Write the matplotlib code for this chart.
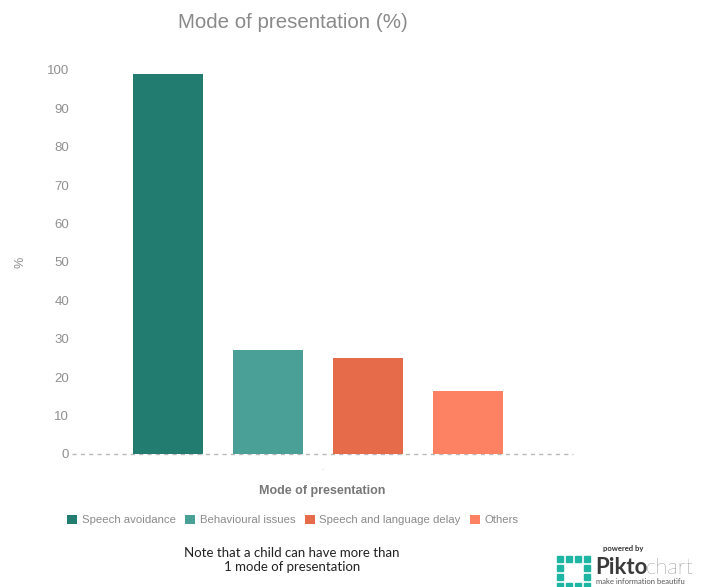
import matplotlib.pyplot as plt
from matplotlib.patches import Patch, Rectangle

categories = ["Speech avoidance", "Behavioural issues", "Speech and language delay", "Others"]
values = [99, 27, 25, 16.4]
colors = ["#227c70", "#4aa096", "#e66b4b", "#fd8264"]
yticks = [0, 10, 20, 30, 40, 50, 60, 70, 80, 90, 100]

plt.rcParams["font.family"] = ["Liberation Sans", "DejaVu Sans"]

W, H = 707, 587
fig = plt.figure(figsize=(W / 100, H / 100), dpi=100)
ax = fig.add_axes([72 / W, 1 - 454 / H, (573 - 72) / W, (454 - 70) / H])

x = range(len(values))
ax.bar(x, values, width=0.7, color=colors, zorder=2)
ax.set_xlim(-0.96, 4.05)
ax.set_ylim(0, 100)
ax.set_yticks(yticks)
ax.set_yticklabels([str(t) for t in yticks], color="#909090", fontsize=9.5,
                   family=["Liberation Sans", "DejaVu Sans"])
ax.tick_params(axis="y", length=0, pad=2)
ax.set_xticks([])
for s in ax.spines.values():
    s.set_visible(False)
ax.axhline(0, color="#b8b8b8", lw=1, ls=(0, (3, 3)), zorder=1, clip_on=False)

fig.text(20 / W, 1 - 262 / H, "%", rotation=90, ha="center", va="center",
         color="#8a8a8a", fontsize=9)
fig.text(322 / W, 1 - 468 / H, ".", ha="center", va="center", color="#bbbbbb", fontsize=6)
fig.text(293 / W, 1 - 22 / H, "Mode of presentation (%)", ha="center", va="center",
         color="#8a8a8a", fontsize=14.8)
fig.text(322 / W, 1 - 491 / H, "Mode of presentation", ha="center", va="center",
         color="#777777", fontsize=9, fontweight="bold")

handles = [Patch(facecolor=c, edgecolor="none") for c in colors]
fig.legend(handles, categories, loc="center", bbox_to_anchor=(293 / W, 1 - 520 / H),
           ncol=4, frameon=False, fontsize=8.2, labelcolor="#8a8a8a",
           handlelength=0.9, handleheight=0.9, handletextpad=0.4, columnspacing=0.8)

fig.text(292 / W, 1 - 560 / H, "Note that a child can have more than\n1 mode of presentation",
         ha="center", va="center", fontsize=9.5, color="#222222", family=["Lato", "DejaVu Sans"],
         linespacing=1.2)

# Piktochart badge
fig.text(623 / W, 1 - 549 / H, "powered by", ha="center", va="center", fontsize=5.5,
         color="#333333", fontweight="bold", family=["Lato", "DejaVu Sans"])
teal = "#1fb5a3"
cell, gap = 6, 3
for i in range(4):
    for j in range(4):
        if i in (1, 2) and j in (1, 2):
            continue
        x0 = 557 + j * (cell + gap)
        y0 = 556 + i * (cell + gap)
        fig.patches.append(Rectangle((x0 / W, 1 - (y0 + cell) / H), cell / W, cell / H,
                                     transform=fig.transFigure, color=teal))
fig.text(595 / W, 1 - 568 / H, "Pikto", ha="left", va="center", fontsize=16,
         fontweight="bold", color="#3a3a3a", family=["Lato", "DejaVu Sans"])
fig.text(646 / W, 1 - 568 / H, "chart", ha="left", va="center", fontsize=16,
         fontweight="light", color="#3a3a3a", family=["Lato", "DejaVu Sans"])
fig.text(596 / W, 1 - 582 / H, "make information beautifu", ha="left", va="center",
         fontsize=5.5, color="#555555", family=["Lato", "DejaVu Sans"])

fig.savefig("out.png", dpi=100)
